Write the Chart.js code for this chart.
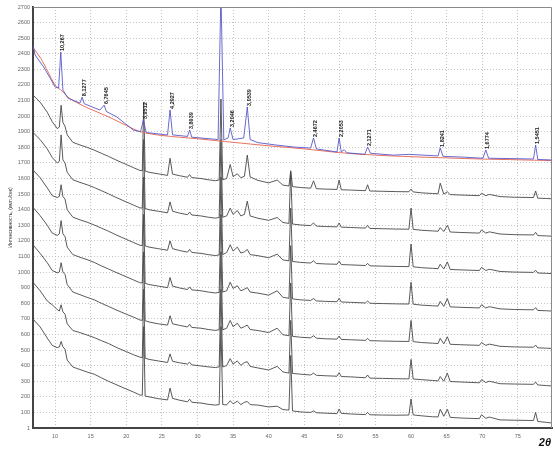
<!DOCTYPE html>
<html>
<head>
<meta charset="utf-8">
<script src="https://cdn.jsdelivr.net/npm/chart.js@4.4.0/dist/chart.umd.min.js"></script>
<style>
html, body { margin: 0; padding: 0; background: #fff; }
#wrap { width: 555px; height: 450px; }
</style>
</head>
<body>
<div id="wrap"><canvas id="xrd"></canvas></div>
<script>
// 2θ grid shared by the seven black patterns
const twoTheta = [6.9, 7.9, 8.9, 9.6, 10.3, 10.6, 10.85, 11.1, 11.4, 11.7, 12.5, 13.5, 14.5, 15.5, 16.5, 17.5, 18.7, 20.0, 21.0, 21.9,
  22.25, 22.45, 22.65, 23.2, 24.5, 25.8, 26.15, 26.5, 27.5, 28.6, 28.9, 29.2, 30.5, 31.5, 32.5, 33.05, 33.3, 33.55, 34.1, 34.6,
  35.0, 35.6, 36.1, 36.6, 37.0, 37.4, 38.5, 40.0, 41.2, 42.0, 42.85, 43.1, 43.35, 44.5, 45.9, 46.3, 46.7, 48.0, 49.6, 49.9,
  50.2, 51.5, 53.6, 53.9, 54.2, 56.0, 58.0, 59.7, 60.0, 60.3, 61.5, 63.0, 63.8, 64.1, 64.6, 65.1, 65.5, 67.0, 69.6, 69.9,
  70.5, 71.0, 72.5, 74.5, 77.2, 77.5, 77.8, 79.0, 79.8];

// intensities, top black pattern first
const pattern1 = [2135, 2090, 2025, 1965, 1920, 1930, 2070, 1960, 1935, 1880, 1832, 1815, 1800, 1782, 1762, 1742, 1716, 1690, 1670, 1652,
  1650, 2090, 1648, 1640, 1630, 1620, 1730, 1628, 1618, 1608, 1625, 1606, 1600, 1592, 1586, 1590, 2110, 1592, 1600, 1690,
  1612, 1630, 1605, 1615, 1750, 1610, 1588, 1572, 1590, 1558, 1552, 1650, 1548, 1542, 1538, 1585, 1535, 1532, 1530, 1590,
  1528, 1526, 1522, 1560, 1520, 1518, 1516, 1515, 1532, 1514, 1508, 1504, 1502, 1570, 1500, 1515, 1497, 1494, 1490, 1505,
  1490, 1498, 1484, 1480, 1478, 1520, 1474, 1472, 1470];
const pattern2 = [1895, 1850, 1790, 1735, 1700, 1710, 1880, 1720, 1700, 1640, 1592, 1575, 1560, 1542, 1522, 1502, 1476, 1450, 1430, 1412,
  1410, 1850, 1408, 1400, 1390, 1380, 1450, 1390, 1378, 1368, 1385, 1366, 1360, 1352, 1346, 1350, 1850, 1352, 1360, 1410,
  1370, 1395, 1360, 1370, 1455, 1360, 1345, 1332, 1350, 1318, 1312, 1640, 1308, 1302, 1298, 1315, 1295, 1292, 1290, 1315,
  1288, 1286, 1282, 1300, 1280, 1278, 1276, 1275, 1410, 1274, 1268, 1264, 1262, 1285, 1260, 1300, 1257, 1254, 1250, 1270,
  1250, 1258, 1244, 1240, 1238, 1255, 1234, 1232, 1230];
const pattern3 = [1655, 1605, 1540, 1490, 1478, 1485, 1560, 1485, 1468, 1400, 1352, 1335, 1320, 1302, 1282, 1262, 1236, 1210, 1190, 1172,
  1170, 1610, 1168, 1160, 1150, 1140, 1200, 1150, 1138, 1128, 1145, 1126, 1120, 1112, 1106, 1110, 1610, 1112, 1125, 1175,
  1135, 1160, 1122, 1130, 1145, 1112, 1105, 1092, 1115, 1078, 1072, 1410, 1068, 1062, 1058, 1072, 1055, 1052, 1050, 1070,
  1048, 1046, 1042, 1056, 1040, 1038, 1036, 1035, 1180, 1034, 1028, 1024, 1022, 1050, 1020, 1065, 1017, 1014, 1010, 1030,
  1010, 1018, 1004, 1000, 998, 1012, 994, 992, 990];
const pattern4 = [1415, 1362, 1300, 1250, 1235, 1245, 1330, 1245, 1228, 1160, 1112, 1095, 1080, 1062, 1040, 1020, 995, 970, 950, 932,
  930, 1370, 928, 920, 910, 900, 965, 910, 898, 888, 905, 886, 880, 872, 866, 870, 1370, 872, 880, 935,
  895, 912, 880, 890, 900, 872, 865, 852, 880, 838, 832, 1170, 828, 822, 818, 830, 815, 812, 810, 832,
  808, 806, 802, 815, 800, 798, 796, 795, 935, 794, 788, 784, 782, 812, 780, 830, 777, 774, 770, 790,
  770, 778, 764, 760, 758, 772, 754, 752, 750];
const pattern5 = [1175, 1120, 1060, 1010, 995, 1000, 1060, 1000, 985, 920, 872, 855, 838, 822, 800, 780, 755, 730, 712, 693,
  690, 1130, 688, 680, 668, 660, 720, 668, 658, 648, 665, 645, 640, 632, 626, 630, 1130, 630, 640, 690,
  650, 672, 640, 650, 660, 632, 625, 612, 640, 598, 592, 930, 588, 582, 578, 592, 576, 572, 570, 590,
  568, 566, 562, 575, 560, 558, 556, 555, 690, 554, 548, 544, 542, 575, 540, 585, 537, 534, 530, 548,
  530, 538, 524, 520, 518, 532, 514, 512, 510];
const pattern6 = [935, 880, 815, 790, 760, 750, 790, 745, 730, 668, 625, 612, 596, 580, 560, 542, 515, 490, 470, 455,
  450, 890, 448, 440, 430, 420, 475, 428, 418, 410, 422, 405, 398, 392, 388, 392, 890, 392, 400, 445,
  410, 430, 402, 420, 425, 395, 385, 372, 395, 360, 352, 690, 350, 345, 340, 352, 338, 335, 332, 355,
  330, 328, 322, 340, 320, 318, 316, 315, 440, 314, 310, 305, 302, 330, 300, 352, 298, 295, 290, 310,
  292, 300, 284, 282, 280, 295, 276, 272, 270];
const pattern7 = [699, 648, 577, 530, 515, 520, 555, 520, 505, 436, 391, 375, 359, 345, 322, 300, 276, 250, 231, 212,
  210, 650, 205, 200, 188, 180, 256, 190, 178, 168, 185, 165, 160, 152, 147, 150, 650, 150, 148, 175,
  155, 172, 150, 165, 170, 150, 147, 135, 140, 118, 115, 465, 110, 103, 100, 110, 98, 95, 92, 122,
  94, 90, 86, 100, 85, 83, 82, 83, 186, 84, 78, 72, 71, 120, 75, 120, 68, 64, 60, 85,
  62, 70, 52, 50, 48, 100, 42, 36, 32];

// top (blue) pattern and its fitted background (red)
const blueTheta = [6.9, 7.2, 8.4, 9.3, 10.0, 10.5, 10.8, 11.1, 11.8, 13.5, 13.8, 14.1, 16.3, 16.9, 17.2, 18.7, 21.0, 22.0, 22.4, 22.8,
  25.8, 26.15, 26.5, 28.6, 28.9, 29.2, 32.9, 33.3, 33.7, 34.3, 34.6, 35.0, 36.5, 37.0, 37.4, 38.5, 41.0, 43.5, 45.9, 46.3,
  46.7, 49.6, 49.9, 50.2, 50.6, 51.0, 53.5, 53.9, 54.3, 57.5, 59.7, 63.8, 64.1, 64.5, 67.0, 70.1, 70.5, 70.9, 74.0, 77.2,
  77.5, 77.8, 79.8];
const blueCounts = [2456, 2392, 2315, 2245, 2187, 2180, 2411, 2168, 2116, 2084, 2122, 2080, 2039, 2071, 2030, 1994, 1911, 1900, 1975, 1895,
  1879, 2040, 1880, 1870, 1911, 1865, 1850, 2800, 1847, 1860, 1924, 1850, 1860, 2059, 1850, 1830, 1815, 1802, 1795, 1860,
  1790, 1770, 1860, 1770, 1785, 1765, 1755, 1802, 1762, 1750, 1755, 1745, 1796, 1742, 1738, 1730, 1783, 1730, 1728, 1725,
  1815, 1722, 1719];
const redTheta = [6.9, 8, 9, 10, 11, 12, 14, 16, 18, 20, 22, 25, 30, 35, 40, 45, 50, 55, 60, 65, 70, 75, 79.8];
const redCounts = [2440, 2370, 2285, 2200, 2160, 2115, 2065, 2025, 1985, 1940, 1900, 1876, 1855, 1832, 1810, 1790, 1766, 1750, 1740, 1732, 1725, 1720, 1715];

// d-spacing labels on the blue peaks
const peakTheta = [10.8, 13.8, 16.9, 22.4, 26.15, 28.9, 34.6, 37.0, 46.3, 49.9, 53.9, 64.1, 70.5, 77.5];
const peakText = ['10,267', '8,1277', '6,7645', '3,9512', '4,2927', '3,8939', '3,2046', '3,0539', '2,4672', '2,2053', '2,1271', '1,8241', '1,6774', '1,5451'];

const xTicks = [10, 15, 20, 25, 30, 35, 40, 45, 50, 55, 60, 65, 70, 75];

const toXY = (xs, ys) => xs.map((x, i) => ({ x: x, y: ys[i] }));
const blackSets = [pattern1, pattern2, pattern3, pattern4, pattern5, pattern6, pattern7].map(p => ({
    data: toXY(twoTheta, p),
    borderColor: '#474747',
    borderWidth: 0.9,
    pointRadius: 0,
    tension: 0
}));

const labelPlugin = {
    id: 'extras',
    afterDatasetsDraw(chart) {
        const ctx = chart.ctx;
        const xs = chart.scales.x, ys = chart.scales.y;
        ctx.save();
        ctx.fillStyle = '#222';
        ctx.font = 'bold 5.5px "Liberation Sans"';
        ctx.textAlign = 'left';
        ctx.textBaseline = 'middle';
        peakTheta.forEach((t, i) => {
            const k = blueTheta.indexOf(t);
            const px = xs.getPixelForValue(t) + 2;
            const py = ys.getPixelForValue(blueCounts[k]) - 1;
            ctx.save();
            ctx.translate(px, py);
            ctx.rotate(-Math.PI / 2);
            ctx.fillText(peakText[i], 0, 0);
            ctx.restore();
        });
        // top and right frame
        const a = chart.chartArea;
        ctx.strokeStyle = '#8a8a8a';
        ctx.lineWidth = 1;
        ctx.beginPath();
        ctx.moveTo(a.left, a.top + 0.5);
        ctx.lineTo(a.right - 0.5, a.top + 0.5);
        ctx.lineTo(a.right - 0.5, a.bottom);
        ctx.stroke();
        ctx.restore();
    },
    afterDraw(chart) {
        const ctx = chart.ctx;
        ctx.save();
        ctx.fillStyle = '#111';
        ctx.font = 'italic bold 11px "Liberation Sans"';
        ctx.textAlign = 'center';
        ctx.textBaseline = 'middle';
        ctx.fillText('2θ', 545, 443);
        ctx.restore();
    }
};

new Chart(document.getElementById('xrd'), {
    type: 'line',
    data: {
        datasets: [
            { data: toXY(blueTheta, blueCounts), borderColor: 'rgba(80,80,200,0.85)', borderWidth: 1, pointRadius: 0, tension: 0 },
            { data: toXY(redTheta, redCounts), borderColor: '#e8705e', borderWidth: 1, pointRadius: 0, tension: 0.3 }
        ].concat(blackSets)
    },
    options: {
        responsive: true,
        maintainAspectRatio: false,
        animation: false,
        layout: { padding: { top: 7, right: 3, left: 0, bottom: 0 } },
        plugins: { legend: { display: false }, tooltip: { enabled: false } },
        scales: {
            x: {
                type: 'linear',
                min: 6.9,
                max: 79.8,
                afterBuildTicks: axis => { axis.ticks = xTicks.map(v => ({ value: v })); },
                afterFit: axis => { axis.height = 22; },
                grid: { color: '#c4c4c4', drawTicks: false },
                border: { color: '#444', width: 2, dash: [1, 2] },
                ticks: { color: '#666', font: { size: 5.5, family: 'Liberation Sans' }, padding: 5, maxRotation: 0 }
            },
            y: {
                min: 0,
                max: 2700,
                afterFit: axis => { axis.width = 33; },
                grid: { color: '#c4c4c4', drawTicks: false },
                border: { color: '#444', width: 2, dash: [1, 2] },
                ticks: {
                    stepSize: 100,
                    color: '#666',
                    font: { size: 5.5, family: 'Liberation Sans' },
                    padding: 3,
                    callback: v => v === 0 ? '1' : v
                },
                title: {
                    display: true,
                    text: 'Интенсивность, (имп./сек)',
                    color: '#333',
                    font: { size: 5, family: 'Liberation Sans' },
                    padding: { top: 8, bottom: 0 }
                }
            }
        }
    },
    plugins: [labelPlugin]
});
</script>
</body>
</html>
